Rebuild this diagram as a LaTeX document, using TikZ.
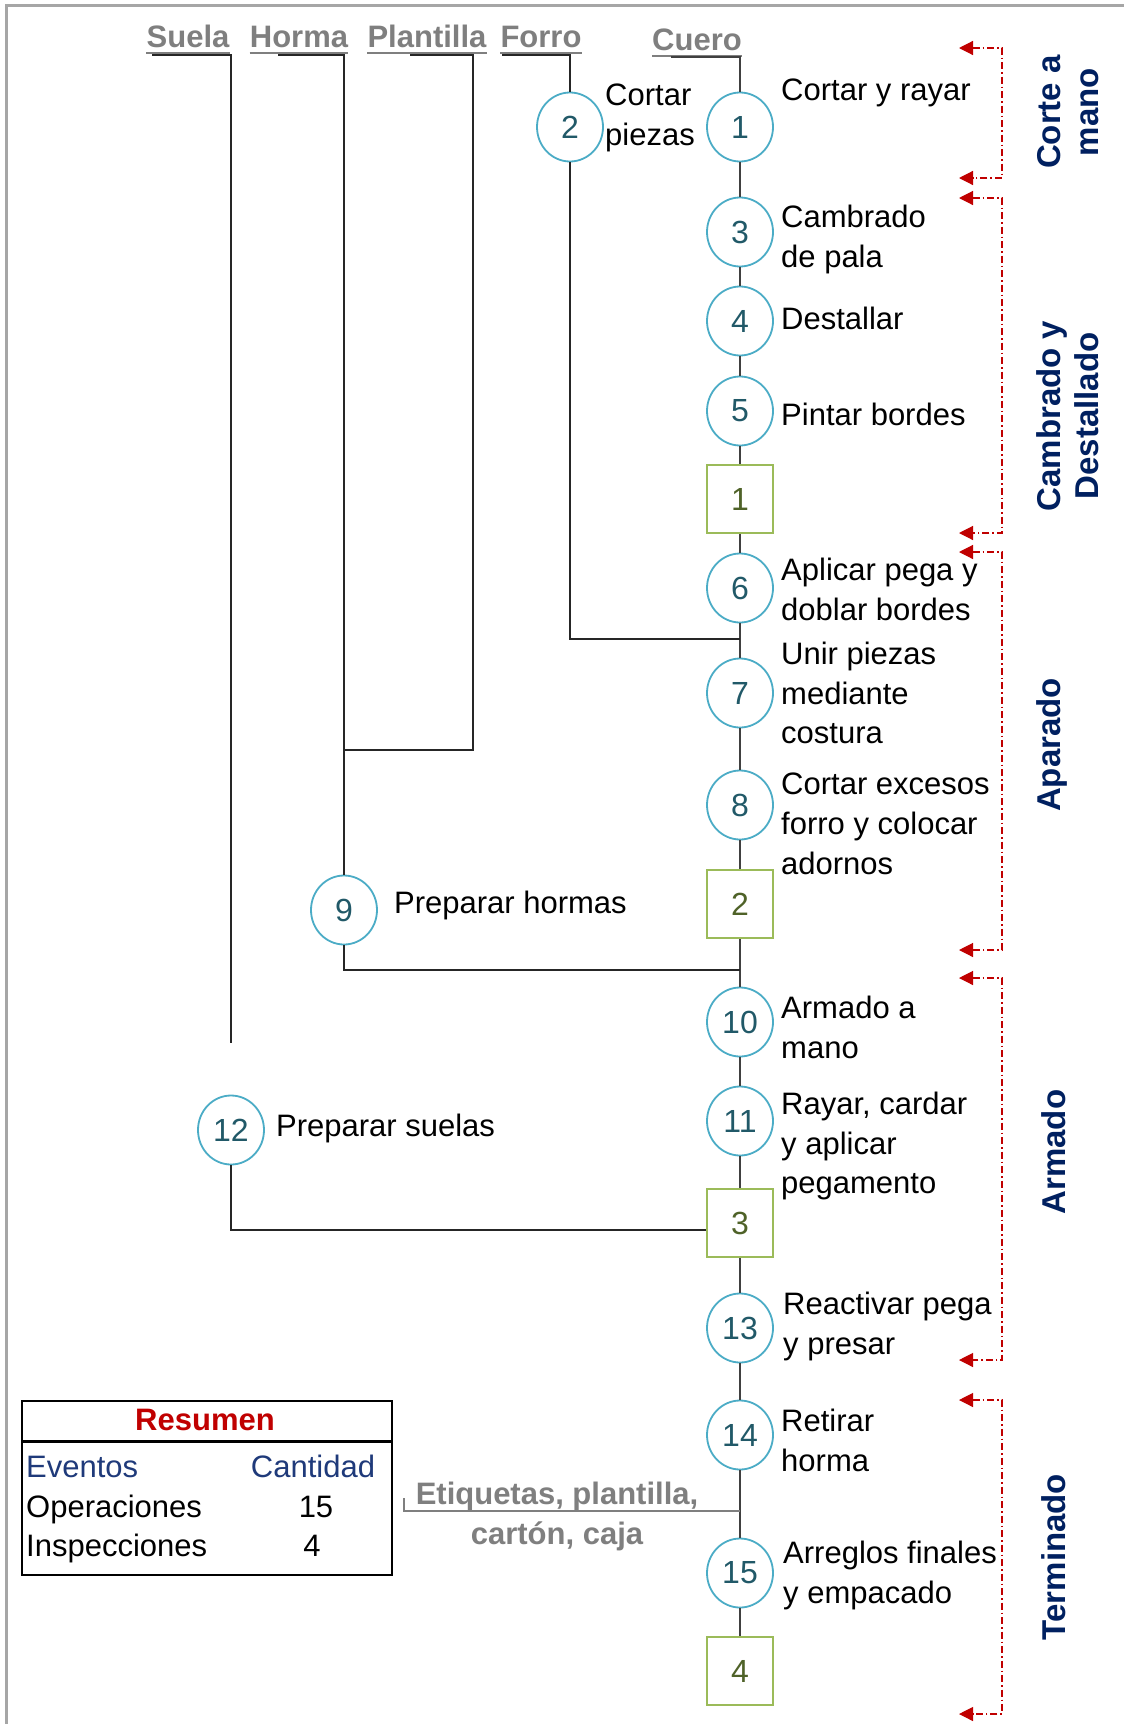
\documentclass[tikz,border=0pt]{standalone}
\usepackage{fontspec}
\setmainfont{Liberation Sans}
\usetikzlibrary{shapes.geometric,arrows.meta,calc}

\definecolor{opedge}{HTML}{4BACC6}
\definecolor{opnum}{HTML}{215968}
\definecolor{inedge}{HTML}{9BBB59}
\definecolor{innum}{HTML}{4F6228}
\definecolor{flow}{HTML}{404040}
\definecolor{matgray}{HTML}{7F7F7F}
\definecolor{stage}{HTML}{002060}
\definecolor{bracket}{HTML}{C00000}
\definecolor{framegray}{HTML}{A6A6A6}
\definecolor{sumred}{HTML}{C00000}
\definecolor{sumblue}{HTML}{1F3A7A}

\begin{document}
\begin{tikzpicture}[x=1pt,y=-1pt,
  every node/.style={inner sep=0pt},
  op/.style={ellipse,draw=opedge,line width=1.8pt,minimum width=66pt,minimum height=69pt,
    fill=white,text=opnum,font=\fontsize{32}{36}\selectfont},
  insp/.style={rectangle,draw=inedge,line width=2pt,minimum width=66pt,minimum height=68pt,
    fill=white,text=innum,font=\fontsize{32}{36}\selectfont},
  desc/.style={anchor=north west,align=left,font=\fontsize{31}{39.6}\selectfont},
  matl/.style={anchor=base,text=matgray,font=\bfseries\fontsize{31}{36}\selectfont},
  stagelbl/.style={rotate=90,align=center,text=stage,font=\bfseries\fontsize{33}{38}\selectfont},
  sumtxt/.style={font=\fontsize{31}{36}\selectfont},
  flowline/.style={draw=flow,line width=1.4pt},
  joinline/.style={draw=black!85,line width=1.4pt},
  span/.style={draw=bracket,line width=1.2pt,dash pattern=on 7pt off 3pt on 1.5pt off 3pt,
    {Triangle[length=14pt,width=14pt]}-{Triangle[length=14pt,width=14pt]}}]

\useasboundingbox (0,0) rectangle (1124,1724);
\fill[white] (0,0) rectangle (1124,1724);

% page frame (top and left edges)
\coordinate (frR) at (1124,5);
\coordinate (frC) at (6,5);
\coordinate (frB) at (6,1724);
\draw[framegray,line width=3pt] (frR) -- (frC) -- (frB);

% materials
\node[matl] (tSuela) at (188,47) {Suela};
\node[matl] (tHorma) at (299,47) {Horma};
\node[matl] (tPlant) at (427,47) {Plantilla};
\node[matl] (tForro) at (541,47) {Forro};
\node[matl] (tCuero) at (697,50) {Cuero};
\foreach \t in {tSuela,tHorma,tPlant,tForro,tCuero}
  \draw[matgray,line width=1.5pt] ($(\t.base west)+(0,6)$) -- ($(\t.base east)+(0,6)$);

% operations and inspections
\node[op] (c1) at (740,127) {1};
\node[op] (c2) at (570,127) {2};
\node[op] (c3) at (740,232) {3};
\node[op] (c4) at (740,321) {4};
\node[op] (c5) at (740,411) {5};
\node[insp] (s1) at (740,499) {1};
\node[op] (c6) at (740,588) {6};
\node[op] (c7) at (740,693) {7};
\node[op] (c8) at (740,805) {8};
\node[insp] (s2) at (740,904) {2};
\node[op] (c9) at (344,910) {9};
\node[op] (c10) at (740,1022) {10};
\node[op] (c11) at (740,1121) {11};
\node[insp] (s3) at (740,1223) {3};
\node[op] (c12) at (231,1130) {12};
\node[op] (c13) at (740,1328) {13};
\node[op] (c14) at (740,1435) {14};
\node[op] (c15) at (740,1573) {15};
\node[insp] (s4) at (740,1671) {4};

% descriptions
\node[desc] (d1) at (781,79) {Cortar y rayar};
\node[desc] (d2) at (605,84) {Cortar\\piezas};
\node[desc] (d3) at (781,205) {Cambrado\\de pala};
\node[desc] (d4) at (781,307) {Destallar};
\node[desc] (d5) at (781,403) {Pintar bordes};
\node[desc] (d6) at (781,558) {Aplicar pega y\\doblar bordes};
\node[desc] (d7) at (781,642) {Unir piezas\\mediante\\costura};
\node[desc] (d8) at (781,773) {Cortar excesos\\forro y colocar\\adornos};
\node[desc] (d9) at (394,891) {Preparar hormas};
\node[desc] (d10) at (781,996) {Armado a\\mano};
\node[desc] (d11) at (781,1092) {Rayar, cardar\\y aplicar\\pegamento};
\node[desc] (d12) at (276,1114) {Preparar suelas};
\node[desc] (d13) at (783,1292) {Reactivar pega\\y presar};
\node[desc] (d14) at (781,1409) {Retirar\\horma};
\node[desc] (d15) at (783,1541) {Arreglos finales\\y empacado};

% material feed lines
\coordinate (suTop) at (152,55);
\coordinate (suEnd) at (231,1043);
\coordinate (hoTop) at (278,55);
\coordinate (plTop) at (410,55);
\coordinate (plTurn) at (473,750);
\coordinate (foTop) at (502,55);
\coordinate (cuTop) at (671,57);
\draw[joinline] (suTop) -| (suEnd);
\draw[joinline] (hoTop) -| (c9.north);
\draw[joinline] (plTop) -| (plTurn) -- (plTurn -| c9.north);
\draw[joinline] (foTop) -| (c2.north);
\draw[flowline] (cuTop) -| (c1.north);

% main flow
\foreach \a/\b in {c1/c3,c3/c4,c4/c5,c5/s1,s1/c6,c6/c7,c7/c8,c8/s2,s2/c10,c10/c11,
                   c11/s3,s3/c13,c13/c14,c14/c15,c15/s4}
  \draw[flowline] (\a.south) -- (\b.north);

% joins into the main flow
\coordinate (j2) at (740,639);
\coordinate (j9) at (740,970);
\draw[joinline] (c2.south) |- (j2);
\draw[joinline] (c9.south) |- (j9);
\draw[joinline] (c12.south) |- ($(s3.west)+(0,7)$);

% packing materials
\node[anchor=north,align=center,text=matgray,font=\bfseries\fontsize{31}{39.6}\selectfont]
  (etq) at (557,1482) {Etiquetas, plantilla,\\cartón, caja};
\coordinate (etTick) at (404,1498);
\coordinate (etJoin) at (740,1511);
\draw[matgray,line width=1.8pt] (etTick) |- (etJoin);

% stage brackets
\foreach \n/\tp/\bt in {a/48/178,b/198/533,c/552/950,d/978/1360,e/1400/1714}{
  \coordinate (br\n t) at (959,\tp);
  \coordinate (br\n b) at (959,\bt);
  \draw[span] (br\n t) -- ++(43,0) |- (br\n b);
}
\node[stagelbl] (stA) at (1068,112) {Corte a\\mano};
\node[stagelbl] (stB) at (1068,416) {Cambrado y\\Destallado};
\node[stagelbl] (stC) at (1052,745) {Aparado};
\node[stagelbl] (stD) at (1054,1152) {Armado};
\node[stagelbl] (stE) at (1054,1557) {Terminado};

% summary table
\node[draw=black,line width=2pt,minimum width=370pt,minimum height=174pt,anchor=north west]
  (sumbox) at (21,1400) {};
\coordinate (sepL) at (21,1441);
\coordinate (sepR) at (391,1441);
\draw[black,line width=3pt] (sepL) -- (sepR);
\node[anchor=base,text=sumred,font=\bfseries\fontsize{31}{36}\selectfont] (sumT) at (205,1430) {Resumen};
\node[sumtxt,anchor=base west,text=sumblue] (hEv) at (26,1477) {Eventos};
\node[sumtxt,anchor=base,text=sumblue] (hCa) at (313,1477) {Cantidad};
\node[sumtxt,anchor=base west] (rOp) at (26,1517) {Operaciones};
\node[sumtxt,anchor=base] (vOp) at (316,1517) {15};
\node[sumtxt,anchor=base west] (rIn) at (26,1556) {Inspecciones};
\node[sumtxt,anchor=base] (vIn) at (312,1556) {4};

\end{tikzpicture}
\end{document}
